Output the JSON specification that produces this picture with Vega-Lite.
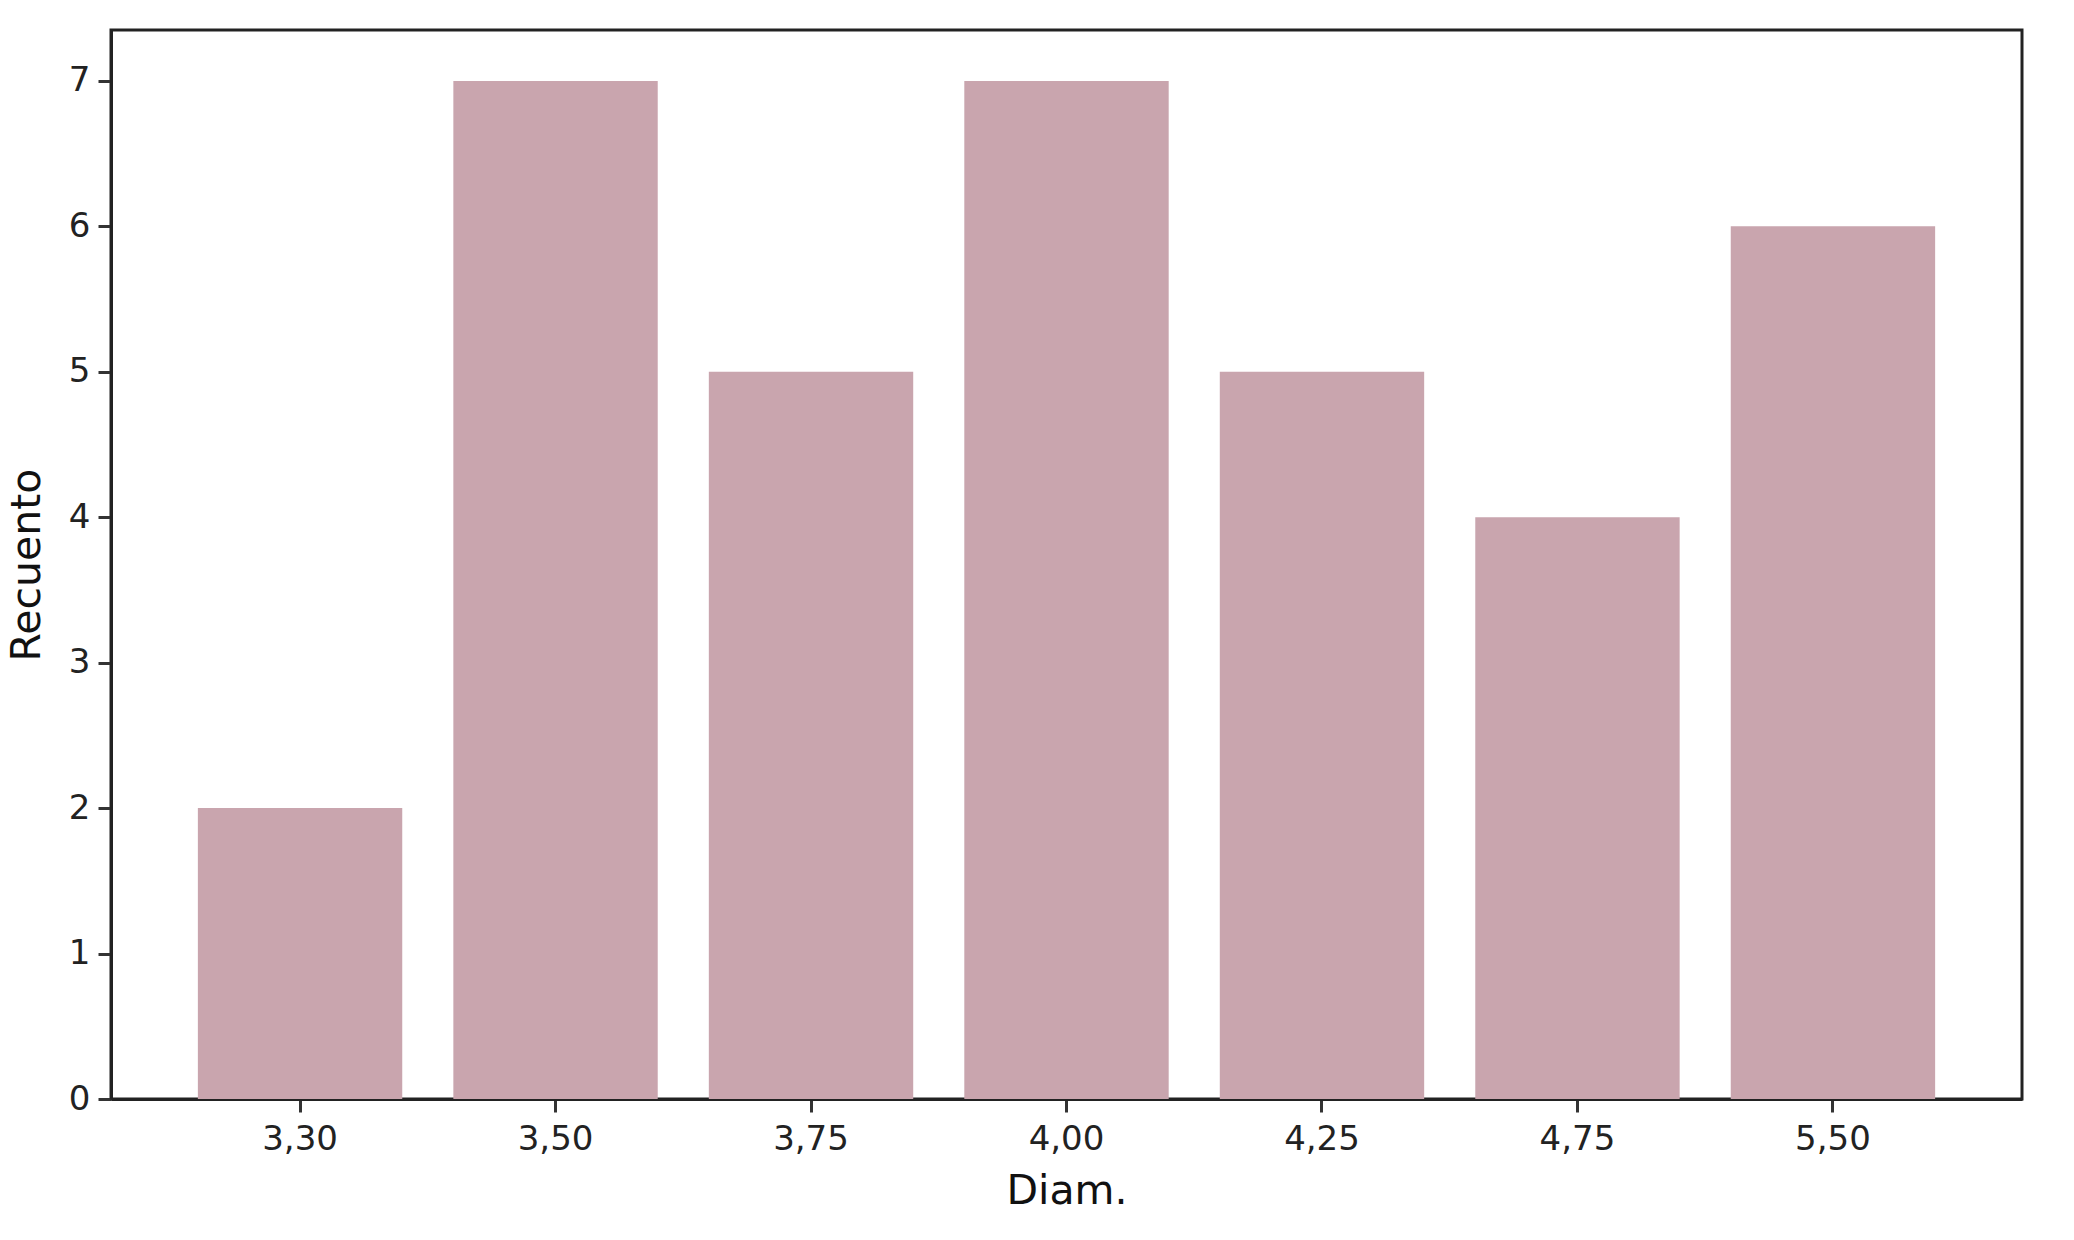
{
  "$schema": "https://vega.github.io/schema/vega-lite/v6.json",
  "autosize": "none",
  "padding": {"left": 111, "top": 30, "right": 52, "bottom": 141},
  "width": 1911,
  "height": 1069,
  "background": "white",
  "data": {"values": [
    {"Diam": "3,30", "Recuento": 2},
    {"Diam": "3,50", "Recuento": 7},
    {"Diam": "3,75", "Recuento": 5},
    {"Diam": "4,00", "Recuento": 7},
    {"Diam": "4,25", "Recuento": 5},
    {"Diam": "4,75", "Recuento": 4},
    {"Diam": "5,50", "Recuento": 6}
  ]},
  "mark": {"type": "bar", "color": "#c9a5ae"},
  "encoding": {
    "x": {
      "field": "Diam", "type": "ordinal", "sort": null,
      "scale": {"paddingInner": 0.2, "paddingOuter": 0.34},
      "axis": {"title": "Diam.", "labelAngle": 0, "labelPadding": 10, "titlePadding": 15}
    },
    "y": {
      "field": "Recuento", "type": "quantitative",
      "scale": {"domain": [0, 7.35], "nice": false},
      "axis": {"title": "Recuento", "values": [0,1,2,3,4,5,6,7], "grid": false, "labelPadding": 8, "titlePadding": 20}
    }
  },
  "config": {
    "font": "DejaVu Sans",
    "view": {"stroke": "#222222", "strokeWidth": 3},
    "axis": {
      "domainColor": "#222222", "domainWidth": 3,
      "tickColor": "#333333", "tickWidth": 3, "tickSize": 13,
      "labelFont": "DejaVu Sans", "labelFontSize": 34, "labelColor": "#222222",
      "titleFont": "DejaVu Sans", "titleFontSize": 41, "titleFontWeight": "normal", "titleColor": "#111111",
      "grid": false
    }
  }
}
